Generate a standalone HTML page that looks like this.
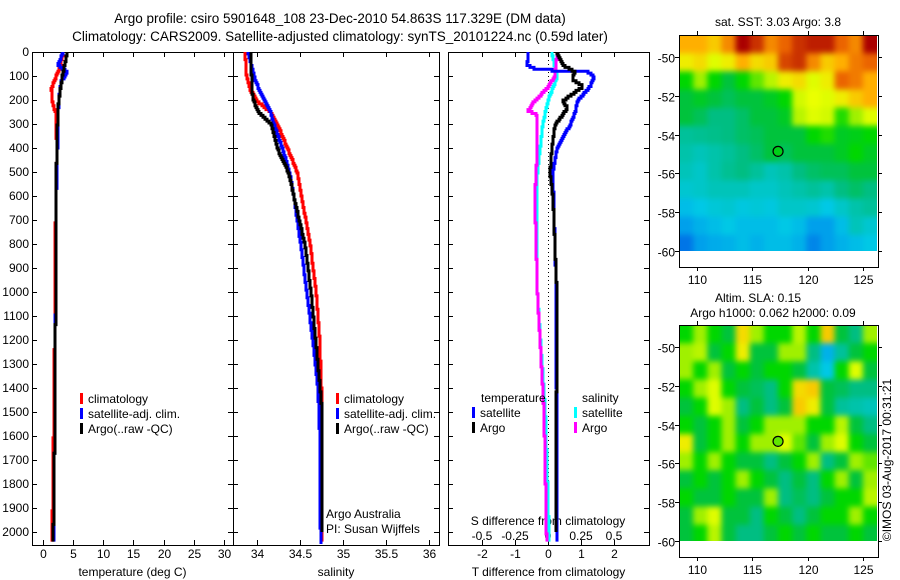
<!DOCTYPE html>
<html><head><meta charset="utf-8"><style>
html,body{margin:0;padding:0;background:#fff;}
svg{display:block;font-family:"Liberation Sans",sans-serif;}
</style></head><body>
<svg id="c" width="900" height="580" viewBox="0 0 900 580" xmlns="http://www.w3.org/2000/svg">
<defs>
<filter id="sm" x="0" y="0" width="1" height="1" color-interpolation-filters="sRGB">
<feGaussianBlur stdDeviation="3"/>
<feComponentTransfer><feFuncA type="linear" slope="20" intercept="0"/></feComponentTransfer>
</filter>
<clipPath id="clipA"><rect x="679" y="35" width="198" height="216"/></clipPath>
<clipPath id="clipB"><rect x="679" y="325" width="198" height="216"/></clipPath>
</defs>
<text x="340" y="23" font-size="13.5" text-anchor="middle">Argo profile: csiro 5901648_108 23-Dec-2010 54.863S 117.329E (DM data)</text>
<text x="340" y="41" font-size="13.5" text-anchor="middle">Climatology: CARS2009. Satellite-adjusted climatology: synTS_20101224.nc (0.59d later)</text>
<g id="g"></g>
</svg>
<script>
// ---------- data ----------
const depthTicks=[0,100,200,300,400,500,600,700,800,900,1000,1100,1200,1300,1400,1500,1600,1700,1800,1900,2000];
const tempTicks=[0,5,10,15,20,25,30];
const salTicks=[34,34.5,35,35.5,36];
const tdiffTicks=[-2,-1,0,1,2];
const sdiffTicks=[-0.5,-0.25,0,0.25,0.5];
const sdiffTickLabels=["-0.5","-0.25","0","0.25","0.5"];
const latTicks=[-50,-52,-54,-56,-58,-60];
const lonTicks=[110,115,120,125];

const tClimDepth=[0,50,80,120,150,200,250,400,600,1000,1500,2040];
const tClimVal=[3.3,2.9,2.5,1.8,1.4,1.5,2.1,2.3,2.1,2.0,1.8,1.5];
const tArgoDepth=[0,50,100,200,300,500,1000,1500,2040];
const tArgoVal=[4.0,3.6,3.2,2.6,2.4,2.2,2.1,2.0,1.7];
const tSatDepth=[0,50,80,120,200,400,600,1000,2040];
const tSatVal=[3.3,2.5,4.0,3.0,2.6,2.4,2.2,2.1,1.8];

const sClimDepth=[0,100,150,200,250,300,400,500,600,800,1000,1200,1500,2040];
const sClimVal=[33.86,33.88,33.92,34.0,34.17,34.24,34.36,34.47,34.52,34.62,34.69,34.73,34.76,34.76];
const sArgoDepth=[0,150,200,250,300,400,500,600,800,1000,1300,1500,2000];
const sArgoVal=[33.93,33.94,33.96,34.03,34.17,34.24,34.37,34.43,34.56,34.63,34.71,34.76,34.76];
const sSatDepth=[0,100,150,200,250,300,400,500,600,800,1000,1200,1400,1600,2050];
const sSatVal=[33.9,33.97,34.02,34.09,34.16,34.2,34.3,34.38,34.43,34.51,34.58,34.65,34.71,34.73,34.74];

const dTSatDepth=[0,50,70,77,100,140,200,250,300,400,500,1000,2040];
const dTSatVal=[-0.6,-0.63,-0.33,1.2,1.4,1.28,0.9,0.82,0.67,0.27,0.15,0.25,0.27];
const dTArgoDepth=[0,50,80,110,140,200,230,300,400,500,600,1000,2000];
const dTArgoVal=[0.27,0.45,0.82,0.73,1.06,0.45,0.6,0.21,0.12,0.06,0.15,0.27,0.24];
const dSArgoDepth=[0,100,150,200,240,260,400,600,1000,1500,2040];
const dSArgoVal=[0.07,0.05,-0.01,-0.1,-0.15,-0.08,-0.08,-0.1,-0.08,-0.03,-0.01];
const dSSatDepth=[0,100,200,300,500,700,1000,1500,2040];
const dSSatVal=[0.03,0.07,0.0,-0.04,-0.08,-0.08,-0.08,-0.02,0.01];

const sstGrid=[
[0.75,0.75,0.72,0.8,0.95,0.9,0.8,0.85,0.9,0.92,0.92,0.85,0.8,0.95],
[0.68,0.7,0.65,0.68,0.75,0.7,0.72,0.88,0.9,0.8,0.72,0.75,0.82,0.85],
[0.55,0.6,0.55,0.5,0.55,0.58,0.62,0.68,0.7,0.65,0.68,0.85,0.82,0.75],
[0.5,0.52,0.5,0.48,0.5,0.5,0.52,0.55,0.64,0.66,0.65,0.68,0.72,0.75],
[0.5,0.48,0.45,0.45,0.47,0.5,0.5,0.52,0.62,0.65,0.64,0.56,0.6,0.65],
[0.42,0.43,0.44,0.45,0.47,0.48,0.5,0.5,0.5,0.55,0.56,0.52,0.53,0.55],
[0.4,0.38,0.4,0.42,0.45,0.47,0.5,0.48,0.5,0.5,0.5,0.52,0.55,0.52],
[0.38,0.36,0.4,0.43,0.45,0.42,0.38,0.4,0.45,0.47,0.48,0.48,0.5,0.5],
[0.35,0.36,0.38,0.38,0.38,0.36,0.36,0.38,0.4,0.42,0.4,0.45,0.47,0.45],
[0.3,0.32,0.34,0.35,0.33,0.34,0.33,0.36,0.36,0.35,0.32,0.36,0.4,0.42],
[0.25,0.28,0.3,0.32,0.3,0.3,0.3,0.32,0.3,0.25,0.25,0.3,0.38,0.35],
[0.2,0.25,0.27,0.28,0.3,0.28,0.3,0.3,0.28,0.22,0.25,0.28,0.3,0.32]];
const slaGrid=[
[0.55,0.6,0.55,0.5,0.7,0.6,0.55,0.55,0.62,0.55,0.72,0.5,0.45,0.6],
[0.6,0.62,0.5,0.55,0.68,0.5,0.5,0.6,0.6,0.45,0.28,0.42,0.5,0.55],
[0.6,0.55,0.6,0.5,0.55,0.5,0.55,0.55,0.5,0.4,0.32,0.55,0.65,0.5],
[0.55,0.6,0.65,0.55,0.5,0.48,0.45,0.55,0.7,0.72,0.5,0.48,0.45,0.45],
[0.5,0.55,0.65,0.6,0.45,0.5,0.45,0.5,0.72,0.68,0.5,0.42,0.4,0.38],
[0.55,0.5,0.55,0.6,0.5,0.55,0.6,0.6,0.6,0.55,0.55,0.62,0.5,0.45],
[0.68,0.5,0.55,0.6,0.55,0.6,0.6,0.65,0.58,0.5,0.6,0.65,0.55,0.5],
[0.6,0.55,0.6,0.55,0.5,0.5,0.45,0.5,0.55,0.6,0.45,0.5,0.6,0.58],
[0.5,0.55,0.5,0.55,0.6,0.55,0.5,0.45,0.5,0.45,0.55,0.6,0.5,0.6],
[0.55,0.5,0.5,0.55,0.5,0.5,0.6,0.45,0.48,0.45,0.5,0.55,0.55,0.62],
[0.5,0.6,0.65,0.5,0.5,0.45,0.55,0.5,0.45,0.5,0.55,0.55,0.6,0.55],
[0.5,0.55,0.62,0.5,0.45,0.45,0.5,0.55,0.5,0.55,0.5,0.5,0.55,0.5]];
const floatLon=117.329, floatLat=-54.863;
const floatSstLevel=0.53, floatSlaLevel=0.58;

// ---------- helpers ----------
const NS="http://www.w3.org/2000/svg";
const G=document.getElementById('g');
function mk(tag,attrs,parent){const e=document.createElementNS(NS,tag);for(const k in attrs)e.setAttribute(k,attrs[k]);(parent||G).appendChild(e);return e;}
function txt(x,y,s,anchor,size,parent){const t=mk('text',{x:x,y:y,'font-size':size||12,'text-anchor':anchor||'start'},parent);t.textContent=s;return t;}
const TOP=52,BOT=545;
const yD=d=>TOP+d*0.24;
const xT=t=>43+t*6.03;
const xS=s=>257+(s-34)*86;
const xTd=d=>548+d*33;
const xSd=s=>548+s*132;

function stepPath(depths,vals,xf){
  let d="";const maxD=depths[depths.length-1];
  for(let z=0;z<=maxD;z+=8){
    let i=0;while(i<depths.length-2&&depths[i+1]<z)i++;
    const f=Math.min(1,Math.max(0,(z-depths[i])/(depths[i+1]-depths[i])));
    const v=vals[i]+(vals[i+1]-vals[i])*f;
    const x=Math.round(xf(v)),y=yD(z);
    d+=(z===0?"M":"H")+x+(z===0?","+y:"")+"V"+(yD(Math.min(z+8,maxD)));
  }
  return d;
}
function panel(name,x0,x1,ticks,xf,labels,axisTitle,showY){
  const g=mk('g',{});
  
  
  const r=mk('rect',{x:x0+0.5,y:TOP+0.5,width:x1-x0,height:BOT-TOP,fill:'none',stroke:'#000','stroke-width':1},g);
  
  
  depthTicks.forEach(d=>{
    mk('line',{x1:x0,x2:x0+5,y1:yD(d)+0.5,y2:yD(d)+0.5,stroke:'#000'},g);
    mk('line',{x1:x1-5,x2:x1,y1:yD(d)+0.5,y2:yD(d)+0.5,stroke:'#000'},g);
    if(showY){const t=txt(29,yD(d)+4,String(d),'end',12,g);
      
      }
  });
  if(ticks){ticks.forEach((v,i)=>{const x=Math.round(xf(v))+0.5;
    mk('line',{x1:x,x2:x,y1:TOP,y2:TOP+5,stroke:'#000'},g);
    mk('line',{x1:x,x2:x,y1:BOT-5,y2:BOT,stroke:'#000'},g);
    const t=txt(x,558,labels?labels[i]:String(v),'middle',12,g);
    
    
  });}
  const at=txt((x0+x1)/2,576,axisTitle,'middle',12,g);
  
  
  return g;
}
function line(name,depths,vals,xf,color,parent){
  const p=mk('path',{d:stepPath(depths,vals,xf),fill:'none',stroke:color,'stroke-width':3},parent);
  
  
}
function legend(items,x,y,parent){
  items.forEach((it,i)=>{
    const r=mk('rect',{x:x,y:y+i*15-10,width:3,height:11,fill:it[1]},parent);
    
    
    const t=txt(x+8,y+i*15,it[0],'start',12,parent);
    
    
  });
}

const p1=panel('temperature-panel',32,233,tempTicks,xT,null,'temperature (deg C)',true);
line('temp-climatology-line',tClimDepth,tClimVal,xT,'#f00',p1);
line('temp-satellite-line',tSatDepth,tSatVal,xT,'#00f',p1);
line('temp-argo-line',tArgoDepth,tArgoVal,xT,'#000',p1);
legend([['climatology','#f00'],['satellite-adj. clim.','#00f'],['Argo(..raw -QC)','#000']],80,403,p1);

const p2=panel('salinity-panel',233,439,salTicks,xS,null,'salinity',false);
line('sal-climatology-line',sClimDepth,sClimVal,xS,'#f00',p2);
line('sal-satellite-line',sSatDepth,sSatVal,xS,'#00f',p2);
line('sal-argo-line',sArgoDepth,sArgoVal,xS,'#000',p2);
legend([['climatology','#f00'],['satellite-adj. clim.','#00f'],['Argo(..raw -QC)','#000']],336,403,p2);
let t1=txt(326,518,'Argo Australia','start',12,p2);
let t2=txt(326,533,'PI: Susan Wijffels','start',12,p2);

const p3=panel('difference-panel',448,649,tdiffTicks,xTd,null,'T difference from climatology',false);
const zl=mk('line',{x1:548.5,x2:548.5,y1:TOP,y2:BOT,stroke:'#000','stroke-dasharray':'1,3'},p3);

sdiffTicks.forEach((v,i)=>{const t=txt(xSd(v),540,sdiffTickLabels[i],'middle',12,p3);
  });
let st=txt(548,525,'S difference from climatology','middle',12,p3);
line('sdiff-satellite-line',dSSatDepth,dSSatVal,xSd,'#0ff',p3);
line('sdiff-argo-line',dSArgoDepth,dSArgoVal,xSd,'#f0f',p3);
line('tdiff-satellite-line',dTSatDepth,dTSatVal,xTd,'#00f',p3);
line('tdiff-argo-line',dTArgoDepth,dTArgoVal,xTd,'#000',p3);
let lt=txt(481,402,'temperature','start',12,p3);
let ls=txt(582,402,'salinity','start',12,p3);
legend([['satellite','#00f'],['Argo','#000']],472,417,p3);
legend([['satellite','#0ff'],['Argo','#f0f']],574,417,p3);

// colormap
const cmapStops=[[0,[0,40,190]],[0.18,[0,100,230]],[0.25,[0,160,235]],[0.32,[0,200,230]],[0.4,[0,195,170]],[0.45,[0,190,130]],[0.5,[0,195,60]],[0.55,[0,215,0]],[0.6,[160,240,0]],[0.66,[235,255,0]],[0.75,[255,175,0]],[0.85,[235,100,0]],[0.95,[170,0,0]],[1,[150,0,0]]];
function cmap(v){v=Math.max(0,Math.min(1,v));let i=0;while(i<cmapStops.length-2&&cmapStops[i+1][0]<v)i++;
  const a=cmapStops[i],b=cmapStops[i+1],f=(v-a[0])/(b[0]-a[0]);
  return 'rgb('+a[1].map((c,k)=>Math.round(c+(b[1][k]-c)*f)).join(',')+')';}
function map(name,grid,top,clip,fillLevel,titles){
  const X0=679,X1=878,Y0=top,Y1=top+232;
  const lat0=top+22;
  const yL=l=>lat0+(-50-l)*19.4;
  const xL=l=>697+(l-110)*11.06;
  const g=mk('g',{});
  
  
  const cg=mk('g',{'clip-path':'url(#'+clip+')'},g);
  const hg=mk('g',{filter:'url(#sm)'},cg);
  const rows=grid.length,cols=grid[0].length;
  const yEnd=yL(-60.1);
  const cw=(X1-1-X0)/cols, chh=(yEnd-Y0)/rows;
  grid.forEach((row,i)=>row.forEach((v,j)=>{
    const x=X0+j*cw-(j===0?12:0), y=Y0+i*chh-(i===0?12:0);
    const w=cw+0.6+(j===0?12:0)+(j===cols-1?12:0), h=chh+0.6+(i===0?12:0)+(i===rows-1?12:0);
    const c=mk('rect',{x:x,y:y,width:w,height:h,fill:cmap(v)},hg);
    
    
  }));
  const fr=mk('rect',{x:X0+0.5,y:Y0+0.5,width:X1-X0,height:Y1-Y0,fill:'none',stroke:'#000'},g);
  
  latTicks.forEach(l=>{const y=Math.round(yL(l))+0.5;
    mk('line',{x1:X0-4,x2:X0,y1:y,y2:y,stroke:'#000'},g);mk('line',{x1:X1,x2:X1+4,y1:y,y2:y,stroke:'#000'},g);
    const t=txt(X0-4,y+5,String(l),'end',12,g);});
  lonTicks.forEach(l=>{const x=Math.round(xL(l))+0.5;
    mk('line',{x1:x,x2:x,y1:Y0-4,y2:Y0,stroke:'#000'},g);mk('line',{x1:x,x2:x,y1:Y1,y2:Y1+4,stroke:'#000'},g);
    const t=txt(x,Y1+17,String(l),'middle',12,g);});
  const c=mk('circle',{cx:xL(floatLon),cy:yL(floatLat),r:5,fill:cmap(fillLevel),stroke:'#000','stroke-width':1.2},g);
  
  titles.forEach(tt=>{const t=txt(tt[0],tt[1],tt[2],'middle',12,g);});
}
map('sst-map',sstGrid,35,'clipA',floatSstLevel,[[778,26,'sat. SST: 3.03 Argo: 3.8']]);
map('sla-map',slaGrid,325,'clipB',floatSlaLevel,[[758,302,'Altim. SLA: 0.15'],[773,317,'Argo h1000: 0.062 h2000: 0.09']]);
const cp=txt(0,0,'©IMOS 03-Aug-2017 00:31:21','middle',12);
cp.setAttribute('transform','translate(891,460) rotate(-90)');


</script>
</body></html>
